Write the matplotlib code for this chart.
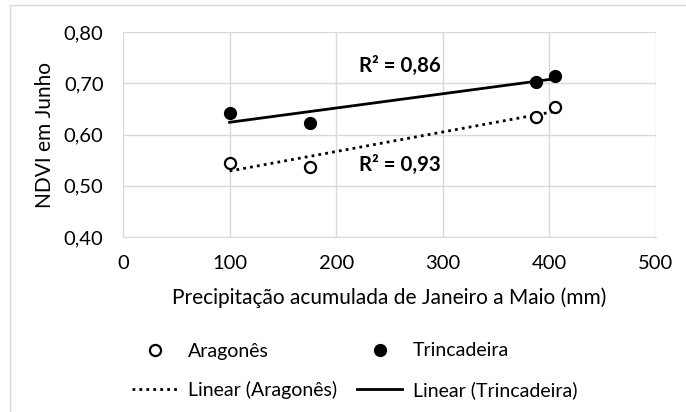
import numpy as np
import matplotlib
matplotlib.use("Agg")
import matplotlib.pyplot as plt
from matplotlib.patches import Rectangle

# Data
precip_aragones = [100, 175, 387, 405]
ndvi_aragones = [0.545, 0.536, 0.634, 0.654]
precip_trinc = [100, 175, 387, 405]
ndvi_trinc = [0.641, 0.622, 0.703, 0.715]
x_ticks = [0, 100, 200, 300, 400, 500]
y_ticks = [0.40, 0.50, 0.60, 0.70, 0.80]
y_tick_labels = ["0,40", "0,50", "0,60", "0,70", "0,80"]
r2_trinc = "R² = 0,86"
r2_arag = "R² = 0,93"

plt.rcParams['font.family'] = ['Lato', 'DejaVu Sans']
FS_TICK = 14.5
FS_TITLE = 15
FS_LEG = 14
FS_R2 = 14.7
W, H = 686, 412
fig = plt.figure(figsize=(W / 100, H / 100), dpi=100)

def px(x0, y0, x1, y1):
    return [x0 / W, 1 - y1 / H, (x1 - x0) / W, (y1 - y0) / H]

ax = fig.add_axes(px(123, 32, 656, 237))
ax.set_xlim(0, 500)
ax.set_ylim(0.40, 0.80)
ax.set_xticks(x_ticks)
ax.set_yticks(y_ticks)
ax.set_yticklabels(y_tick_labels)
ax.grid(True, color='#d9d9d9', lw=1)
ax.set_axisbelow(True)
for s in ax.spines.values():
    s.set_visible(False)
ax.spines['bottom'].set_visible(True)
ax.spines['bottom'].set_color('#d9d9d9')
ax.tick_params(length=0, labelsize=FS_TICK, colors='#000000')
ax.tick_params(axis='x', pad=13)
ax.tick_params(axis='y', pad=14)

# Trendlines
ca = np.polyfit(precip_aragones, ndvi_aragones, 1)
ct = np.polyfit(precip_trinc, ndvi_trinc, 1)
xa = np.array([min(precip_aragones), max(precip_aragones)])
xt = np.array([min(precip_trinc), max(precip_trinc)])
la, = ax.plot(xa, np.polyval(ca, xa), color='black', lw=2.0, ls=(0, (1, 1.5)), zorder=2)
lt, = ax.plot(xt, np.polyval(ct, xt), color='black', lw=2.0, ls='-', zorder=2)

sa, = ax.plot(precip_aragones, ndvi_aragones, 'o', ms=8, mfc='white', mec='black', mew=1.6, zorder=3)
st, = ax.plot(precip_trinc, ndvi_trinc, 'o', ms=8.5, mfc='black', mec='black', zorder=3)

ax.text(260, 0.734, r2_trinc, ha='center', va='center', fontsize=FS_R2, fontweight='bold')
ax.text(260, 0.5405, r2_arag, ha='center', va='center', fontsize=FS_R2, fontweight='bold')

ax.set_xlabel("Precipitação acumulada de Janeiro a Maio (mm)", fontsize=FS_TITLE, labelpad=11)
ax.set_ylabel("NDVI em Junho", fontsize=FS_TITLE, labelpad=6)

fs_px = FS_LEG * 100 / 72
leg = fig.legend([sa, la, st, lt],
                 ["Aragonês", "Linear (Aragonês)", "Trincadeira", "Linear (Trincadeira)"],
                 ncol=2, loc='upper left', bbox_to_anchor=(132 / W, 1 - 342.5 / H),
                 frameon=False, fontsize=FS_LEG, handlelength=45 / fs_px,
                 handletextpad=11 / fs_px, columnspacing=20 / fs_px,
                 labelspacing=1.1, borderpad=0, borderaxespad=0)

fig.patches.append(Rectangle((10 / W, -0.1), 2, (H - 5) / H + 0.1, transform=fig.transFigure,
                             fill=False, edgecolor='#d9d9d9', lw=1))

fig.savefig("out.png", dpi=100)
